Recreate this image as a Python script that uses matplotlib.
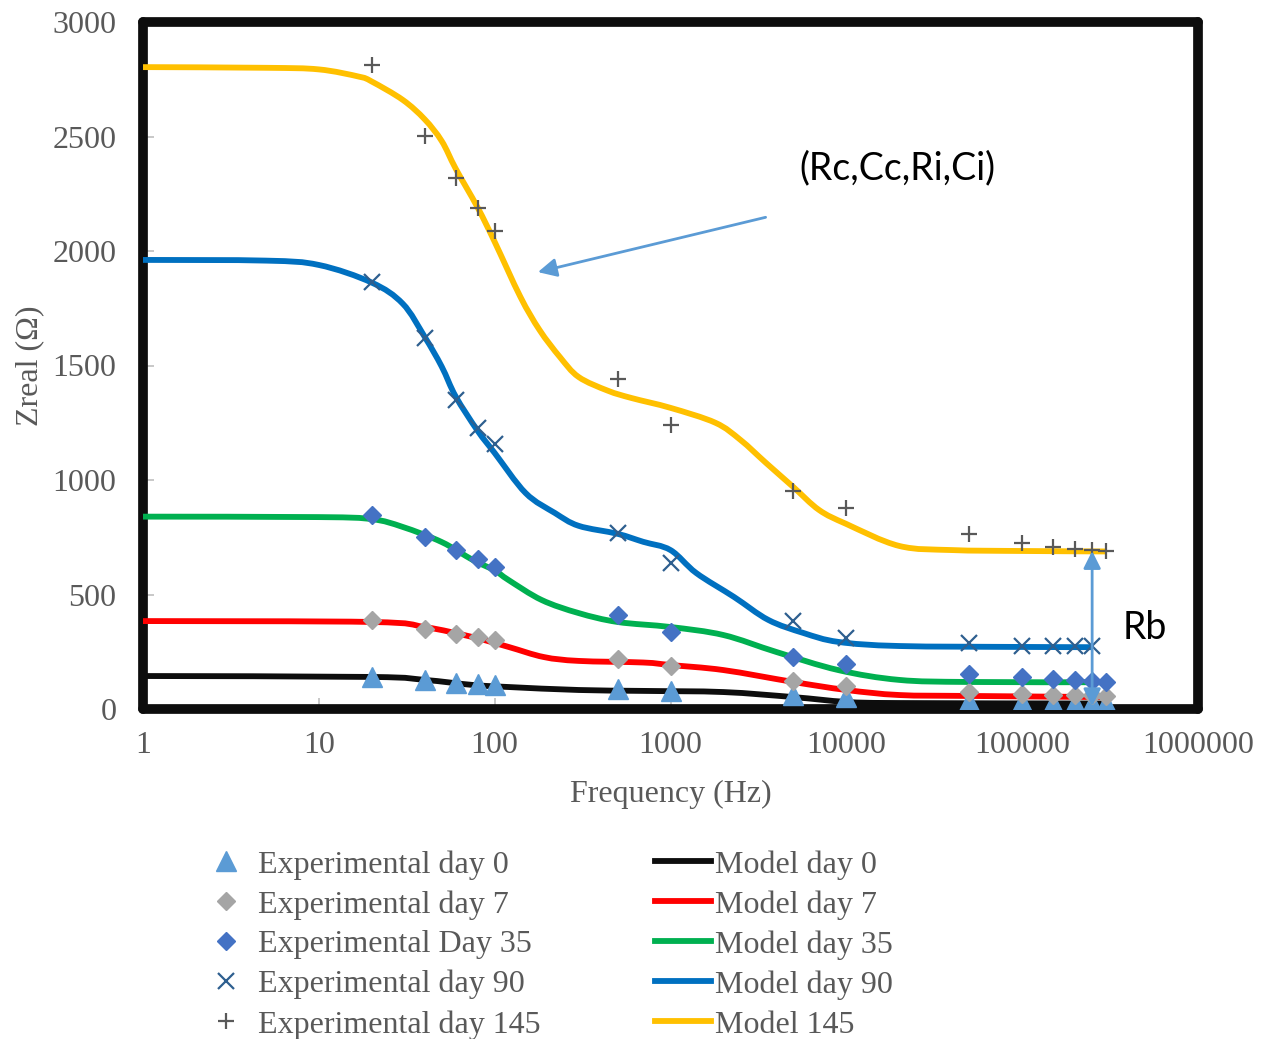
import numpy as np
import matplotlib
matplotlib.use("Agg")
import matplotlib.pyplot as plt
from matplotlib.path import Path
from matplotlib.patches import PathPatch
from matplotlib.lines import Line2D
from matplotlib.ticker import FixedLocator, FixedFormatter, NullLocator

# ---------------- data ----------------
exp_freq = [20, 40, 60, 80, 100, 500, 1000, 5000, 10000, 50000, 100000, 150000, 200000, 250000, 300000]
exp_day0 = [140, 127, 114, 109, 105, 87, 79, 61, 52, 35, 31, 26, 26, 26, 26]
exp_day7 = [389, 349, 327, 314, 301, 218, 188, 122, 100, 74, 66, 61, 61, 61, 57]
exp_day35 = [847, 751, 694, 655, 620, 410, 336, 227, 197, 153, 140, 131, 127, 122, 118]
exp_freq90 = [20, 40, 60, 80, 100, 500, 1000, 5000, 10000, 50000, 100000, 150000, 200000, 250000]
exp_day90 = [1865, 1620, 1349, 1227, 1157, 769, 638, 384, 310, 288, 275, 275, 275, 275]
exp_day145 = [2812, 2502, 2319, 2188, 2087, 1441, 1240, 952, 878, 764, 725, 707, 699, 694, 690]

m0_f = [1, 20, 40, 75, 120, 300, 700, 2000, 5000, 10000, 20000, 300000]
m0_v = [144, 140, 127, 105, 96, 83, 79, 74, 52, 31, 26, 24]
m7_f = [1, 20, 40, 75, 120, 190, 300, 700, 1000, 2000, 5000, 10000, 20000, 50000, 300000]
m7_v = [384, 380, 358, 314, 271, 227, 210, 203, 192, 170, 118, 83, 61, 57, 52]
m35_f = [1, 10, 20, 30, 50, 75, 100, 120, 185, 300, 500, 1000, 2000, 4000, 9000, 20000, 50000, 300000]
m35_v = [840, 838, 829, 795, 729, 651, 605, 563, 476, 419, 380, 358, 323, 249, 170, 127, 118, 117]
m90_f = [1, 5, 10, 20, 30, 40, 50, 60, 80, 100, 150, 220, 300, 500, 700, 1000, 1400, 2300, 3600, 5700, 9000, 20000, 100000, 250000]
m90_v = [1961, 1958, 1939, 1862, 1770, 1625, 1495, 1365, 1215, 1118, 943, 856, 800, 765, 730, 694, 594, 489, 389, 332, 293, 275, 271, 270]
m145_f = [1, 5, 10, 17, 20, 30, 40, 50, 60, 80, 100, 140, 180, 235, 300, 440, 600, 1000, 1800, 2500, 3500, 5000, 7000, 10000, 20000, 40000, 100000, 300000]
m145_v = [2803, 2800, 2793, 2761, 2740, 2660, 2575, 2480, 2360, 2190, 2040, 1800, 1655, 1537, 1450, 1390, 1358, 1315, 1250, 1175, 1074, 969, 869, 808, 712, 694, 690, 688]

x_ticks = [1, 10, 100, 1000, 10000, 100000, 1000000]
x_labels = ["1", "10", "100", "1000", "10000", "100000", "1000000"]
y_ticks = [0, 500, 1000, 1500, 2000, 2500, 3000]

# ---------------- figure ----------------
plt.rcParams['font.family'] = ['Liberation Serif', 'DejaVu Serif']
GRAY = '#595959'
FS = 23

fig = plt.figure(figsize=(12.72, 10.39), dpi=100)
ax = fig.add_axes([143/1272, 1-709/1039, (1198-143)/1272, (709-22)/1039])
ax.set_xscale('log')
ax.set_xlim(1, 1000000)
ax.set_ylim(0, 3000)


def smooth_line(ax, f, v, color, lw, label):
    """Excel-style smoothed line: cubic Bezier segments through the read points
    (Catmull-Rom tangents computed in log-frequency space)."""
    x = np.log10(np.asarray(f, float))
    y = np.asarray(v, float)
    n = len(x)
    verts = [(f[0], v[0])]
    codes = [Path.MOVETO]
    for i in range(n - 1):
        x0, y0 = (x[i - 1], y[i - 1]) if i > 0 else (x[i], y[i])
        x3, y3 = (x[i + 2], y[i + 2]) if i + 2 < n else (x[i + 1], y[i + 1])
        c1 = (x[i] + (x[i + 1] - x0) / 6, y[i] + (y[i + 1] - y0) / 6)
        c2 = (x[i + 1] - (x3 - x[i]) / 6, y[i + 1] - (y3 - y[i]) / 6)
        verts += [(10 ** c1[0], c1[1]), (10 ** c2[0], c2[1]), (f[i + 1], v[i + 1])]
        codes += [Path.CURVE4] * 3
    disp = ax.transData.transform(verts)
    path = Path(disp, codes)
    patch = PathPatch(path, facecolor='none', edgecolor=color, lw=lw,
                      capstyle='butt', joinstyle='round', transform=None, zorder=3)
    ax.add_patch(patch)
    return Line2D([], [], color=color, lw=lw, label=label)


lw = 4.2
fig.canvas.draw()
l0 = smooth_line(ax, m0_f, m0_v, '#0d0d0d', lw, 'Model day 0')
l7 = smooth_line(ax, m7_f, m7_v, '#ff0000', lw, 'Model day 7')
l35 = smooth_line(ax, m35_f, m35_v, '#00b050', lw, 'Model day 35')
l90 = smooth_line(ax, m90_f, m90_v, '#0070c0', lw, 'Model day 90')
l145 = smooth_line(ax, m145_f, m145_v, '#ffc000', lw, 'Model 145')

e0, = ax.plot(exp_freq, exp_day0, ls='none', marker='^', ms=14, color='#5b9bd5', mec='#5b9bd5', label='Experimental day 0', zorder=4)
e7, = ax.plot(exp_freq, exp_day7, ls='none', marker='D', ms=9.5, color='#a5a5a5', mec='#a5a5a5', label='Experimental day 7', zorder=4)
e35, = ax.plot(exp_freq, exp_day35, ls='none', marker='D', ms=9.5, color='#4472c4', mec='#4472c4', label='Experimental Day 35', zorder=4)
e90, = ax.plot(exp_freq90, exp_day90, ls='none', marker='x', ms=11, mew=1.6, color='#2e5f8f', label='Experimental day 90', zorder=4)
e145, = ax.plot(exp_freq, exp_day145, ls='none', marker='+', ms=12, mew=1.6, color='#595959', label='Experimental day 145', zorder=4)

ax.xaxis.set_major_locator(FixedLocator(x_ticks))
ax.xaxis.set_major_formatter(FixedFormatter(x_labels))
ax.xaxis.set_minor_locator(NullLocator())
ax.set_yticks(y_ticks)
ax.set_yticklabels([str(v) for v in y_ticks])

ax.tick_params(axis='both', direction='in', length=8, width=1.2, color='#bfbfbf',
               labelsize=FS, labelcolor=GRAY)
ax.tick_params(axis='x', pad=16)
ax.tick_params(axis='y', pad=19)

for s in ax.spines.values():
    s.set_linewidth(7)
    s.set_color('#0d0d0d')
    s.set_capstyle('round')
    s.set_joinstyle('round')

ax.set_xlabel('Frequency (Hz)', fontsize=FS, color=GRAY, labelpad=14)
ax.set_ylabel('Zreal (Ω)', fontsize=FS, color=GRAY, labelpad=6)

# annotations
ax.annotate('', xy=(170, 1905), xytext=(3600, 2150),
            arrowprops=dict(arrowstyle='-|>', color='#5b9bd5', lw=2, mutation_scale=28), zorder=5)
ax.text(19500, 2362, '(Rc,Cc,Ri,Ci)', fontsize=27, color='black', ha='center', va='center',
        family=['Lato', 'DejaVu Sans'])
ax.annotate('', xy=(250000, 690), xytext=(250000, 12),
            arrowprops=dict(arrowstyle='<|-|>', color='#5b9bd5', lw=2, mutation_scale=26,
                            shrinkA=0, shrinkB=0), zorder=6)
ax.text(500000, 355, 'Rb', fontsize=27, color='black', ha='center', va='center',
        family=['Lato', 'DejaVu Sans'])

handles = [e0, e7, e35, e90, e145, l0, l7, l35, l90, l145]
leg = fig.legend(handles=handles, labels=[h.get_label() for h in handles], ncol=2,
                 loc='upper left', bbox_to_anchor=(198/1272, 1-850/1039), frameon=False,
                 fontsize=FS, handlelength=1.75, handletextpad=0.12, columnspacing=3.6,
                 labelspacing=0.33, borderpad=0, borderaxespad=0)
for t in leg.get_texts():
    t.set_color(GRAY)

fig.savefig('out.png', dpi=100)
